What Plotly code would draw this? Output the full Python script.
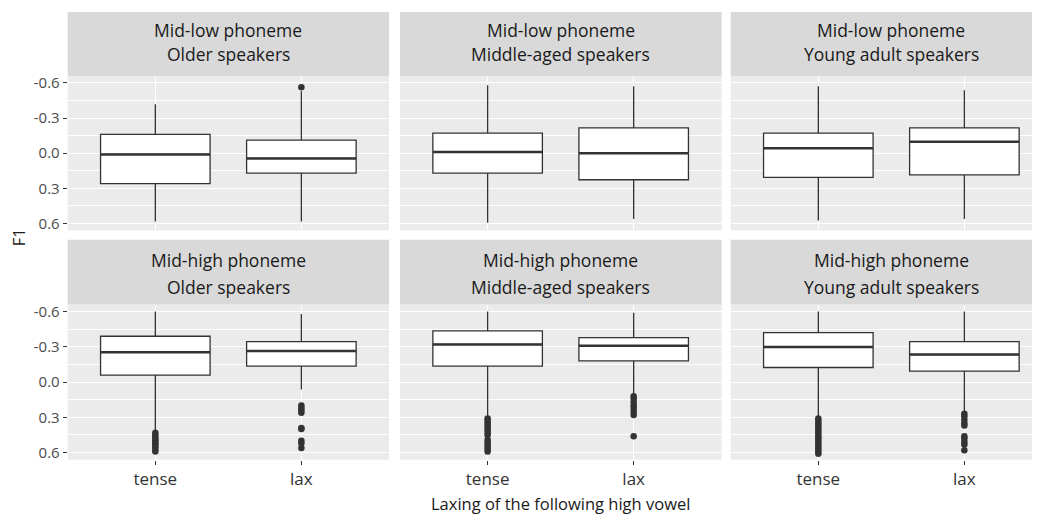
import plotly.graph_objects as go

# ---------------- data ----------------
categories = ["tense", "lax"]
phonemes = ["Mid-low phoneme", "Mid-high phoneme"]
ages = ["Older speakers", "Middle-aged speakers", "Young adult speakers"]

y_ticks = [-0.6, -0.3, 0.0, 0.3, 0.6]
y_ticktext = ["-0.6", "-0.3", "0.0", "0.3", "0.6"]

# Stats per panel: [tense, lax]; panels ordered row by row (Mid-low: Older, Middle, Young; Mid-high: ...)
whisker_low = [[-0.418, -0.53], [-0.580, -0.572], [-0.572, -0.538],
               [-0.600, -0.580], [-0.600, -0.589], [-0.600, -0.600]]
q_low = [[-0.160, -0.112], [-0.171, -0.216], [-0.171, -0.216],
         [-0.390, -0.345], [-0.435, -0.379], [-0.421, -0.345]]
medians = [[0.011, 0.045], [-0.011, 0.000], [-0.042, -0.098],
           [-0.253, -0.264], [-0.320, -0.309], [-0.298, -0.234]]
q_high = [[0.261, 0.171], [0.171, 0.227], [0.207, 0.185],
          [-0.060, -0.136], [-0.136, -0.180], [-0.124, -0.094]]
whisker_high = [[0.583, 0.583], [0.594, 0.563], [0.575, 0.563],
                [0.413, 0.063], [0.287, 0.105], [0.292, 0.245]]

outliers_tense = [
    [],
    [],
    [],
    [0.43, 0.45, 0.47, 0.49, 0.50, 0.52, 0.53, 0.55, 0.57, 0.59],
    [0.31, 0.33, 0.35, 0.37, 0.39, 0.41, 0.43, 0.45, 0.49, 0.51, 0.53, 0.55, 0.57, 0.59],
    [0.31, 0.33, 0.35, 0.37, 0.39, 0.41, 0.43, 0.45, 0.47, 0.49, 0.51, 0.53, 0.55, 0.57, 0.59, 0.61],
]
outliers_lax = [
    [-0.564],
    [],
    [],
    [0.20, 0.22, 0.24, 0.26, 0.39, 0.40, 0.50, 0.52, 0.56],
    [0.12, 0.14, 0.17, 0.20, 0.22, 0.25, 0.28, 0.46],
    [0.27, 0.29, 0.32, 0.35, 0.37, 0.46, 0.48, 0.51, 0.53, 0.58],
]

# ---------------- layout geometry (screen pixels) ----------------
OFF = 8  # page body margin
W, H = 1040 - OFF, 517 - OFF
col_x = [(67.7, 389.0), (400.0, 721.7), (730.7, 1040.0)]
full_w = 321.3
row_y = [(72.7, 229.0), (304.0, 461.0)]
strip_y = [(8.0, 72.7), (238.5, 304.0)]
strip_line_y = [(26.0, 50.0), (258.5, 286.0)]

def px(x):
    return min(max((x - OFF) / W, 0), 1)

def py(y):
    return min(max(1 - (y - OFF) / H, 0), 1)

INK = "#333333"
fig = go.Figure()
layout = dict(
    width=W, height=H, margin=dict(l=0, r=0, t=0, b=0),
    paper_bgcolor="white", plot_bgcolor="#EBEBEB",
    showlegend=False,
    font=dict(family="Open Sans", color="#1A1A1A"),
    shapes=[], annotations=[],
)

box_w = 0.75
for r in range(2):
    for c in range(3):
        i = r * 3 + c
        n = i + 1
        xa = "x" if n == 1 else f"x{n}"
        ya = "y" if n == 1 else f"y{n}"
        xpos = [1, 2]
        fig.add_trace(go.Box(
            x=xpos, q1=q_low[i], median=medians[i], q3=q_high[i],
            lowerfence=whisker_low[i], upperfence=whisker_high[i],
            width=box_w, whiskerwidth=0, fillcolor="white",
            line=dict(color=INK, width=1.3), boxpoints=False,
            hoverinfo="skip", xaxis=xa, yaxis=ya,
        ))
        mx, my = [], []
        for k in range(2):
            mx += [xpos[k] - box_w / 2, xpos[k] + box_w / 2, None]
            my += [medians[i][k], medians[i][k], None]
        fig.add_trace(go.Scatter(x=mx, y=my, mode="lines",
                                 line=dict(color=INK, width=2.5),
                                 hoverinfo="skip", xaxis=xa, yaxis=ya))
        ox = [1] * len(outliers_tense[i]) + [2] * len(outliers_lax[i])
        oy = outliers_tense[i] + outliers_lax[i]
        if oy:
            fig.add_trace(go.Scatter(x=ox, y=oy, mode="markers",
                                     marker=dict(color=INK, size=6.5),
                                     hoverinfo="skip", xaxis=xa, yaxis=ya))

        x0, x1 = col_x[c]
        xr_end = 0.4 + 2.2 * (x1 - x0) / full_w
        xkey = "xaxis" if n == 1 else f"xaxis{n}"
        ykey = "yaxis" if n == 1 else f"yaxis{n}"
        layout[xkey] = dict(
            domain=[px(x0), px(x1)], anchor=ya, range=[0.4, xr_end],
            tickvals=[1, 2], ticktext=categories,
            showticklabels=(r == 1), ticks="outside" if r == 1 else "",
            ticklen=4, tickwidth=1, tickcolor=INK,
            tickfont=dict(size=17, color="#333333"),
            showgrid=True, gridcolor="white", gridwidth=1.1,
            zeroline=False, showline=False, fixedrange=True,
        )
        y0, y1 = row_y[r]
        layout[ykey] = dict(
            domain=[py(y1), py(y0)], anchor=xa, range=[0.66, -0.66],
            tickvals=y_ticks, ticktext=y_ticktext,
            showticklabels=(c == 0), ticks="outside" if c == 0 else "",
            ticklen=4, tickwidth=1, tickcolor=INK,
            tickfont=dict(size=15, color="#4D4D4D"),
            showgrid=True, gridcolor="white", gridwidth=1.1,
            minor=dict(tickvals=[-0.45, -0.15, 0.15, 0.45], showgrid=True,
                       gridcolor="white", gridwidth=0.55, ticks=""),
            zeroline=False, showline=False, fixedrange=True,
        )
        # strip
        s0, s1 = strip_y[r]
        layout["shapes"].append(dict(
            type="rect", xref="paper", yref="paper",
            x0=px(x0), x1=px(x1), y0=py(s1), y1=py(s0),
            fillcolor="#D9D9D9", line=dict(width=0), layer="below"))
        cx = (x0 + full_w / 2 - OFF) / W
        for line_txt, ly in zip([phonemes[r], ages[c]], strip_line_y[r]):
            layout["annotations"].append(dict(
                text=line_txt, xref="paper", yref="paper", x=cx, y=py(ly),
                xanchor="center", yanchor="middle", showarrow=False,
                font=dict(size=17.5, color="#1A1A1A")))

layout["annotations"].append(dict(
    text="F1", xref="paper", yref="paper", x=px(18), y=py(236),
    textangle=-90, xanchor="center", yanchor="middle", showarrow=False,
    font=dict(size=16.5, color="#1A1A1A")))
layout["annotations"].append(dict(
    text="Laxing of the following high vowel", xref="paper", yref="paper",
    x=px(560), y=py(505), xanchor="center", yanchor="middle", showarrow=False,
    font=dict(size=16.5, color="#1A1A1A")))

fig.update_layout(**layout)
fig.write_html("out.html")
